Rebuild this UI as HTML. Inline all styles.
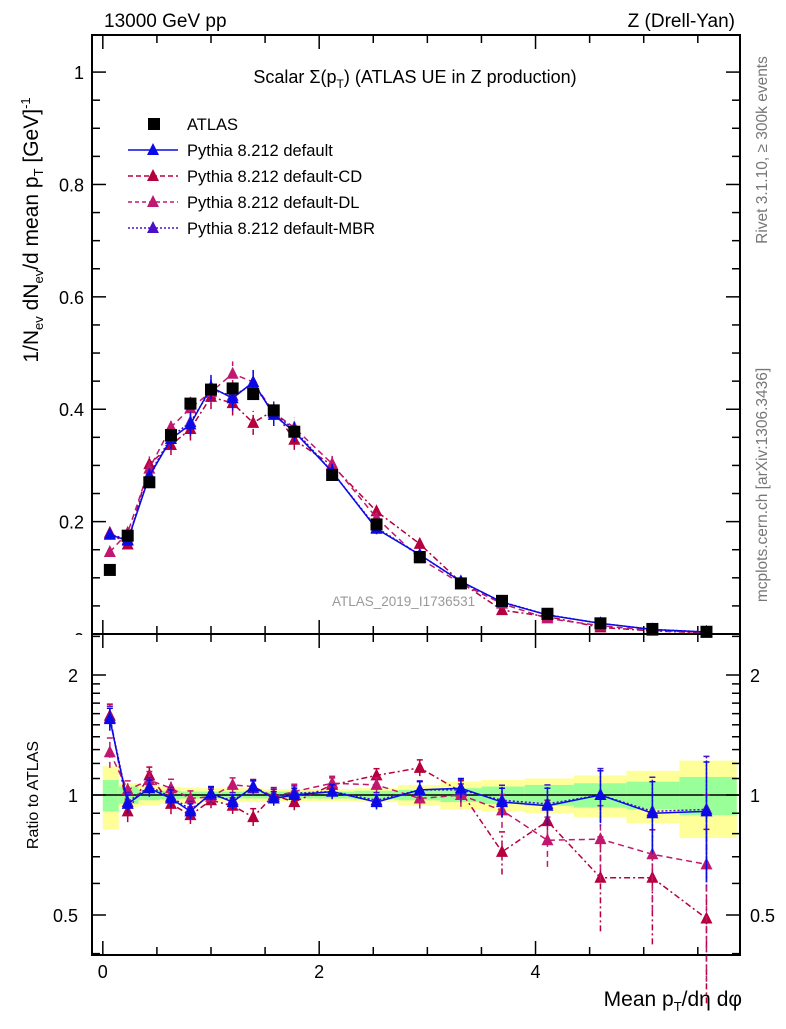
<!DOCTYPE html>
<html><head><meta charset="utf-8"><style>
body{margin:0;background:#fff;font-family:"Liberation Sans",sans-serif}
svg text{font-family:"Liberation Sans","DejaVu Sans",sans-serif}
</style></head><body>
<svg id="c" width="786" height="1024" viewBox="0 0 786 1024" xmlns="http://www.w3.org/2000/svg">
<text x="104" y="27" font-size="19">13000 GeV pp</text>
<text x="735" y="27" font-size="19" text-anchor="end">Z (Drell-Yan)</text>
<text x="415" y="83" font-size="18" text-anchor="middle">Scalar Σ(p<tspan font-size="12" dy="5">T</tspan><tspan dy="-5">) (ATLAS UE in Z production)</tspan></text>
<text transform="translate(767,150) rotate(-90)" font-size="15.5" fill="#777" text-anchor="middle">Rivet 3.1.10, ≥ 300k events</text>
<text transform="translate(767,485) rotate(-90)" font-size="15.5" fill="#777" text-anchor="middle">mcplots.cern.ch [arXiv:1306.3436]</text>
<text x="332" y="606" font-size="13.5" fill="#999">ATLAS_2019_I1736531</text>
<text transform="translate(38,230) rotate(-90)" font-size="21" text-anchor="middle">1/N<tspan font-size="13" dy="5">ev</tspan><tspan dy="-5"> dN</tspan><tspan font-size="13" dy="5">ev</tspan><tspan dy="-5">/d mean p</tspan><tspan font-size="13" dy="5">T</tspan><tspan dy="-5"> [GeV]</tspan><tspan font-size="13" dy="-8">-1</tspan></text>
<text transform="translate(38,795) rotate(-90)" font-size="16" text-anchor="middle">Ratio to ATLAS</text>
<text x="742" y="1006" font-size="21" text-anchor="end">Mean p<tspan font-size="13" dy="5">T</tspan><tspan dy="-5">/dη dφ</tspan></text>
<g id="g"></g>
</svg>
<script>
const xCenters=[0.065,0.23,0.43,0.63,0.81,1.0,1.2,1.39,1.58,1.77,2.12,2.53,2.93,3.31,3.69,4.11,4.6,5.08,5.58];
const atlas=[0.114,0.175,0.27,0.354,0.41,0.435,0.437,0.427,0.398,0.36,0.283,0.195,0.137,0.09,0.059,0.036,0.019,0.009,0.004];
const ratioDefault=[1.55,0.95,1.04,0.98,0.91,1.01,0.96,1.05,0.98,1.0,1.02,0.96,1.03,1.04,0.96,0.94,1.0,0.9,0.91];
const ratioCD=[1.58,0.91,1.12,0.95,0.89,0.97,0.94,0.88,1.0,0.96,1.06,1.12,1.17,1.02,0.72,0.86,0.62,0.62,0.49];
const ratioDL=[1.28,1.03,1.09,1.04,0.98,0.99,1.06,1.05,0.99,1.02,1.07,1.06,0.98,1.0,0.915,0.77,0.775,0.71,0.67];
const ratioMBR=[1.56,0.96,1.05,0.99,0.92,1.0,0.97,1.04,0.99,1.01,1.02,0.97,1.03,1.03,0.97,0.95,1.0,0.91,0.92];
const ratioErr=[0.1,0.05,0.05,0.05,0.04,0.04,0.04,0.04,0.04,0.04,0.04,0.04,0.05,0.06,0.08,0.1,0.15,0.18,0.3];
const statBand=[0.09,0.05,0.03,0.025,0.02,0.02,0.02,0.02,0.02,0.02,0.02,0.025,0.03,0.04,0.05,0.06,0.07,0.08,0.11];
const totBand=[0.18,0.07,0.06,0.05,0.045,0.04,0.04,0.04,0.035,0.035,0.035,0.04,0.06,0.08,0.09,0.1,0.12,0.15,0.22];
const xTicks=[0,2,4];
const yTicks=[0,0.2,0.4,0.6,0.8,1];
const rTicks=[0.5,1,2];
const NS="http://www.w3.org/2000/svg",G=document.getElementById('g');
const L=92,R=740,T=35,MB=634,RB=955;
const X=v=>L+(v+0.1)/5.99*(R-L);
const Y=v=>MB-v/1.066*(MB-T);
const RY=v=>795-Math.log2(v)*120;
function mk(t,a){const e=document.createElementNS(NS,t);for(const k in a)e.setAttribute(k,a[k]);G.appendChild(e);return e;}
const edges=[0];for(let i=0;i<xCenters.length-1;i++)edges.push((xCenters[i]+xCenters[i+1])/2);edges.push(5.86);
for(let i=0;i<xCenters.length;i++){
 let e=mk('rect',{x:X(edges[i]),y:RY(1+totBand[i]),width:X(edges[i+1])-X(edges[i]),height:RY(1-totBand[i])-RY(1+totBand[i]),fill:'#ffff99'});
 
 
 e=mk('rect',{x:X(edges[i]),y:RY(1+statBand[i]),width:X(edges[i+1])-X(edges[i]),height:RY(1-statBand[i])-RY(1+statBand[i]),fill:'#99ff99'});
 
 
}
let ref=mk('line',{x1:L,x2:R,y1:RY(1),y2:RY(1),stroke:'#000','stroke-width':1.5});


for(let v=0;v<=5.8;v+=0.5){const maj=Math.abs(v%2)<1e-6;const len=maj?14:8;
 for(const [b,t] of [[MB,T],[RB,MB]]){mk('line',{x1:X(v),x2:X(v),y1:b,y2:b-len,stroke:'#000','stroke-width':1.5});mk('line',{x1:X(v),x2:X(v),y1:t,y2:t+len,stroke:'#000','stroke-width':1.5});}}
xTicks.forEach(v=>{const t=mk('text',{x:X(v),y:978,'font-size':18,'text-anchor':'middle'});t.textContent=v;
 
 });
for(let v=0;v<=1.05;v+=0.05){const maj=Math.round(v*100)%20==0;const len=maj?14:8;
 mk('line',{x1:L,x2:L+len,y1:Y(v),y2:Y(v),stroke:'#000','stroke-width':1.5});mk('line',{x1:R,x2:R-len,y1:Y(v),y2:Y(v),stroke:'#000','stroke-width':1.5});}
yTicks.forEach(v=>{const t=mk('text',{x:84,y:Y(v)+(v==0?12:7),'font-size':18,'text-anchor':'end'});t.textContent=v;
 
 });
const cov=mk('rect',{x:60,y:MB+1,width:31,height:12,fill:'#fff'});


let f=mk('rect',{x:L,y:T,width:R-L,height:MB-T,fill:'none',stroke:'#000','stroke-width':2});


f=mk('rect',{x:L,y:MB,width:R-L,height:RB-MB,fill:'none',stroke:'#000','stroke-width':2});


[0.4,0.5,0.6,0.7,0.8,0.9,1,1.1,1.2,1.3,1.4,1.5,1.6,1.7,1.8,1.9,2,2.5].forEach(v=>{if(RY(v)<MB+2||RY(v)>RB)return;const maj=rTicks.includes(v);const len=maj?14:8;
 mk('line',{x1:L,x2:L+len,y1:RY(v),y2:RY(v),stroke:'#000','stroke-width':1.5});mk('line',{x1:R,x2:R-len,y1:RY(v),y2:RY(v),stroke:'#000','stroke-width':1.5});});
rTicks.forEach(v=>{let t=mk('text',{x:78,y:RY(v)+7,'font-size':18,'text-anchor':'end'});t.textContent=v;
 
 
 t=mk('text',{x:750,y:RY(v)+7,'font-size':18});t.textContent=v;
 
 });
const series=[
 {name:'default-cd',r:ratioCD,col:'#b5003d',dash:'6,3,2,3'},
 {name:'default-dl',r:ratioDL,col:'#c0186e',dash:'6,4'},
 {name:'default-mbr',r:ratioMBR,col:'#4a10c8',dash:'2,2'},
 {name:'default',r:ratioDefault,col:'#0a0ae6',dash:''}];
function tri(x,y,c,n){const p=mk('polygon',{points:`${x},${y-7} ${x-6},${y+5} ${x+6},${y+5}`,fill:c});
 
 }
series.forEach(s=>{
 const mp=xCenters.map((x,i)=>X(x)+','+Y(atlas[i]*s.r[i])).join(' ');
 let l=mk('polyline',{points:mp,fill:'none',stroke:s.col,'stroke-width':1.5,'stroke-dasharray':s.dash});
 
 
 const rp=xCenters.map((x,i)=>X(x)+','+RY(s.r[i])).join(' ');
 l=mk('polyline',{points:rp,fill:'none',stroke:s.col,'stroke-width':1.5,'stroke-dasharray':s.dash});
 
 
 xCenters.forEach((x,i)=>{const e=ratioErr[i]*(s.name=='default'?1:1.1);
  const y1=atlas[i]*s.r[i];const ey=Math.max(0.004,atlas[i]*0.05);
  mk('line',{x1:X(x),x2:X(x),y1:Y(y1-ey),y2:Y(y1+ey),stroke:s.col,'stroke-width':1.5,'stroke-dasharray':s.dash});
  mk('line',{x1:X(x),x2:X(x),y1:RY(Math.max(0.3,s.r[i]-e)),y2:RY(s.r[i]+e),stroke:s.col,'stroke-width':1.5,'stroke-dasharray':s.dash});
  mk('line',{x1:X(x)-3,x2:X(x)+3,y1:RY(s.r[i]+e),y2:RY(s.r[i]+e),stroke:s.col,'stroke-width':1.5});
  tri(X(x),Y(y1),s.col,s.name+'-point');
  tri(X(x),RY(s.r[i]),s.col,s.name+'-ratio-point');});
});
xCenters.forEach((x,i)=>{const r=mk('rect',{x:X(x)-6,y:Y(atlas[i])-6,width:12,height:12,fill:'#000'});
 
 });
const leg=[['ATLAS','#000','',1],['Pythia 8.212 default','#0a0ae6','',0],['Pythia 8.212 default-CD','#b5003d','5,3',0],['Pythia 8.212 default-DL','#c0186e','4,3',0],['Pythia 8.212 default-MBR','#4a10c8','2,2',0]];
leg.forEach((d,i)=>{const y=124+i*26;
 if(d[3]){const r=mk('rect',{x:148,y:y-6,width:12,height:12,fill:'#000'});}
 else{const l=mk('line',{x1:128,x2:178,y1:y,y2:y,stroke:d[1],'stroke-width':1.5,'stroke-dasharray':d[2]});
  
  
  tri(153,y,d[1],'legend-marker');}
 const t=mk('text',{x:187,y:y+6,'font-size':16.5});t.textContent=d[0];
 
 });
</script>
</body></html>
